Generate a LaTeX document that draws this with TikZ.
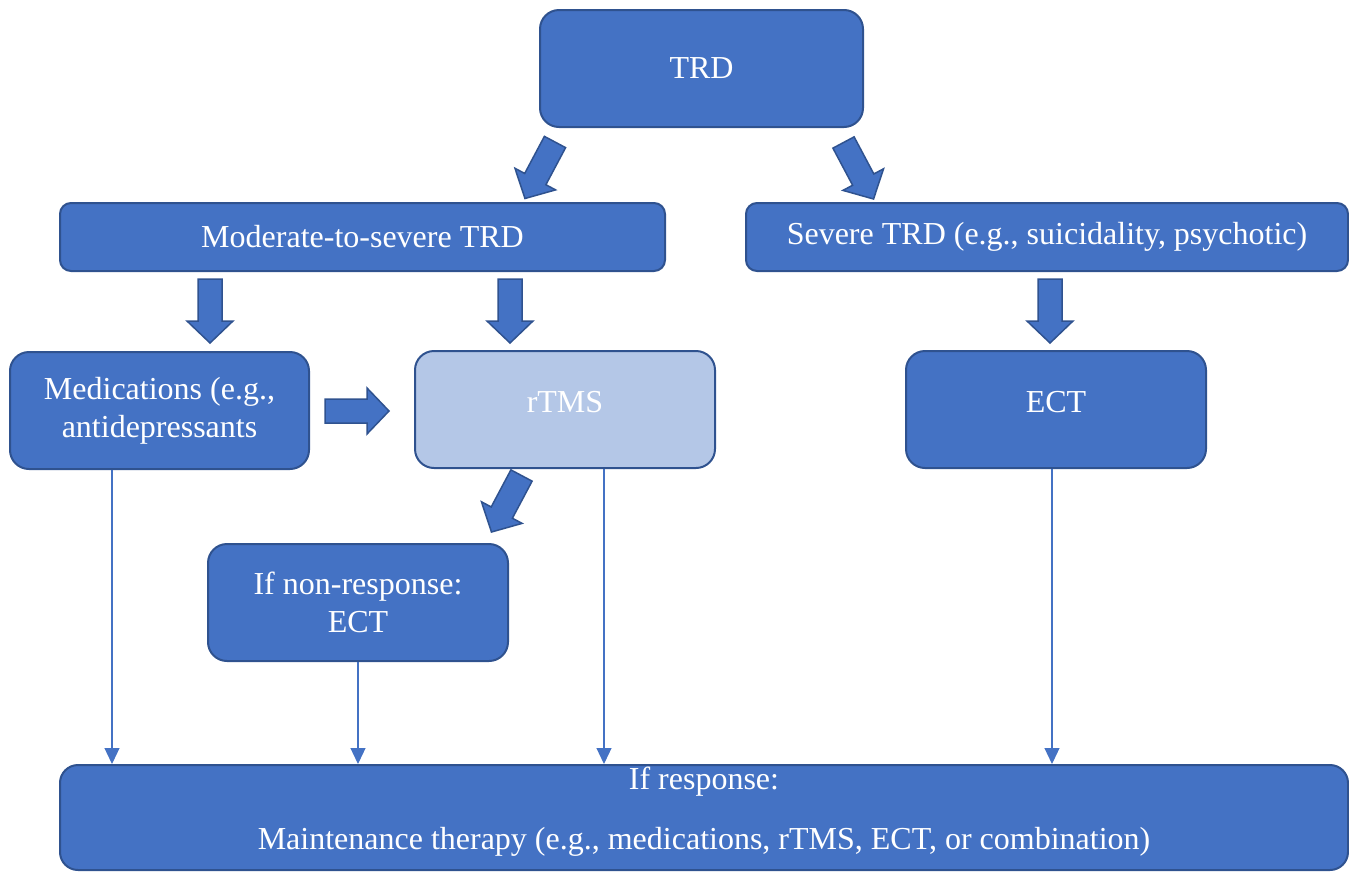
\documentclass[tikz,border=0pt]{standalone}
\usepackage{fontspec}
\setmainfont{Liberation Serif}
\usetikzlibrary{arrows.meta,calc}
\definecolor{boxfill}{HTML}{4472C4}
\definecolor{boxline}{HTML}{2F528F}
\definecolor{lightfill}{HTML}{B4C7E7}
\tikzset{
  box/.style={draw=boxline, fill=boxfill, line width=2pt, text=white,
    font=\fontsize{32}{38}\selectfont, align=center, inner sep=0pt,
    anchor=north west},
  tallbox/.style={box, rounded corners=19pt, minimum height=117pt},
  flatbox/.style={box, rounded corners=11pt, minimum height=68pt},
  barrow/.style={fill=boxfill, draw=boxline, line width=1.5pt, line join=miter},
  thinarrow/.style={draw=boxfill, line width=1.2pt,
    -{Triangle[length=16pt,width=15pt]}},
}
% block arrow: start coordinate, direction angle, length
\newcommand\blockarrow[3]{%
  \draw[barrow, shift={(#1)}, rotate=#2]
    (0,-12) -- ({#3-22},-12) -- ({#3-22},-23) -- (#3,0)
    -- ({#3-22},23) -- ({#3-22},12) -- (0,12) -- cycle;}
% extra depth that lifts a node's text above the box centre
\newcommand\lift[1]{\rule[-#1]{0pt}{0pt}}
\begin{document}
\begin{tikzpicture}[x=1pt,y=1pt]
\useasboundingbox (0,0) rectangle (1349,-871);

% boxes
\node[tallbox, minimum width=323pt] (trd) at (539,-9) {TRD};
\node[flatbox, minimum width=605pt] (mod) at (59,-202) {Moderate-to-severe TRD};
\node[flatbox, minimum width=602pt] (sev) at (745,-202)
  {Severe TRD (e.g., suicidality, psychotic)};
\node[tallbox, minimum width=299pt] (med) at (9,-351)
  {Medications (e.g.,\\antidepressants};
\node[tallbox, minimum width=300pt, fill=lightfill] (rtms) at (414,-350)
  {rTMS\lift{16pt}};
\node[tallbox, minimum width=300pt] (ect) at (905,-350) {ECT\lift{16pt}};
\node[tallbox, minimum width=300pt] (nonr) at (207,-543)
  {If non-response:\\ECT};
\node[box, rounded corners=18pt, minimum width=1288pt, minimum height=105pt]
  (resp) at (59,-764)
  {If response:\\[22pt]Maintenance therapy (e.g., medications, rTMS, ECT, or combination)\lift{18pt}};

% block arrows
\coordinate (a1) at (555,-142);
\coordinate (a2) at (843.5,-142.5);
\coordinate (a3) at (210,-279);
\coordinate (a4) at (510,-279);
\coordinate (a5) at (1050,-279);
\coordinate (a6) at (325,-411);
\coordinate (a7) at (521.5,-475.5);
\blockarrow{a1}{-118}{64}
\blockarrow{a2}{-62}{64}
\blockarrow{a3}{-90}{64}
\blockarrow{a4}{-90}{64}
\blockarrow{a5}{-90}{64}
\blockarrow{a6}{0}{64}
\blockarrow{a7}{-118}{64}

% thin arrows down to the response box
\coordinate (x1) at (112,0);
\coordinate (x2) at (358,0);
\coordinate (x3) at (604,0);
\coordinate (x4) at (1052,0);
\draw[thinarrow] (med.south -| x1) -- (resp.north -| x1);
\draw[thinarrow] (nonr.south -| x2) -- (resp.north -| x2);
\draw[thinarrow] (rtms.south -| x3) -- (resp.north -| x3);
\draw[thinarrow] (ect.south -| x4) -- (resp.north -| x4);
\end{tikzpicture}
\end{document}
